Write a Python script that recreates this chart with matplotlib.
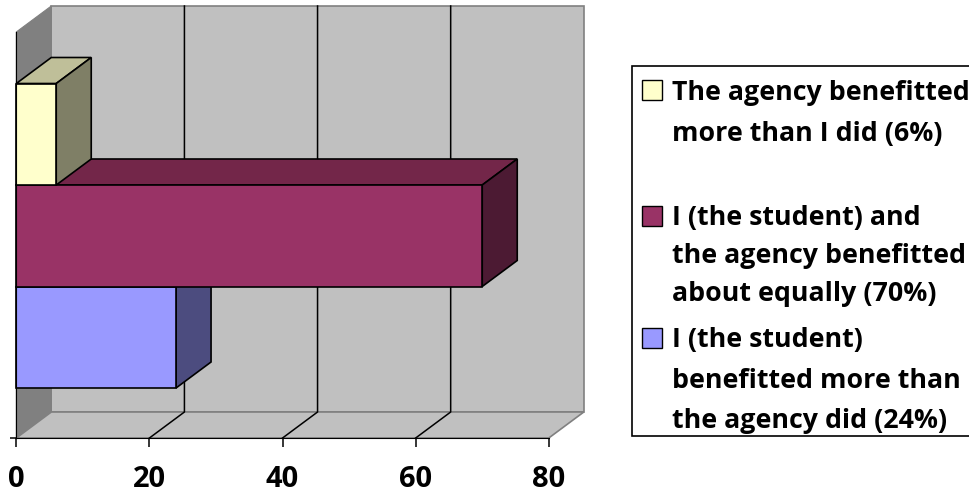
import matplotlib
matplotlib.use("Agg")
import matplotlib.pyplot as plt
from matplotlib.patches import Polygon, Rectangle

W, H = 970, 493
labels = ["The agency benefitted\nmore than I did (6%)",
          "I (the student) and\nthe agency benefitted\nabout equally (70%)",
          "I (the student)\nbenefitted more than\nthe agency did (24%)"]
values = [6, 70, 24]
x_ticks = [0, 20, 40, 60, 80]

front = ["#FFFFCC", "#993366", "#9999FF"]
top = ["#BFBF99", "#732649", "#7373BF"]
side = ["#7F7F66", "#4C1A33", "#4C4C7F"]

plt.rcParams["font.family"] = ["Open Sans", "DejaVu Sans"]
fig = plt.figure(figsize=(W / 100, H / 100), dpi=100)
ax = fig.add_axes([16.3 / W, (H - 438) / H, 532.5 / W, 406 / H])
ax.set_xlim(0, 80)
ax.set_ylim(0, 1)

DX = 35 / 532.5 * 80
DY = 26 / 406
XMAX = 80


def poly(pts, fc, ec="black", lw=1.2, z=1):
    ax.add_patch(Polygon(pts, closed=True, facecolor=fc, edgecolor=ec, lw=lw,
                         clip_on=False, zorder=z, joinstyle="miter"))


# walls
poly([(DX, DY), (XMAX + DX, DY), (XMAX + DX, 1 + DY), (DX, 1 + DY)], "#C0C0C0", "#808080", 1.2, 1)
poly([(0, 0), (DX, DY), (DX, 1 + DY), (0, 1)], "#808080", "#808080", 0.8, 1)
poly([(0, 0), (XMAX, 0), (XMAX + DX, DY), (DX, DY)], "#C0C0C0", "#808080", 1.2, 1)

# gridlines
for t in x_ticks[1:-1]:
    ax.plot([t, t + DX, t + DX], [0, DY, 1 + DY], color="black", lw=1.1, clip_on=False, zorder=2)

# bars
bar_h = 101.5 / 406
y0 = (438 - 388) / 406
for i in [2, 1, 0]:
    b = y0 + (2 - i) * bar_h
    t = b + bar_h
    v = values[i]
    z = 3 + (2 - i)
    poly([(0, t), (DX, t + DY), (v + DX, t + DY), (v, t)], top[i], z=z)
    poly([(v, b), (v + DX, b + DY), (v + DX, t + DY), (v, t)], side[i], z=z)
    poly([(0, b), (v, b), (v, t), (0, t)], front[i], z=z)

# axes
for s in ["top", "right"]:
    ax.spines[s].set_visible(False)
ax.spines["left"].set_zorder(10)
ax.spines["bottom"].set_zorder(10)
ax.set_xticks(x_ticks)
ax.set_yticks([0])
ax.set_yticklabels([""])
ax.tick_params(axis="x", length=6.5, width=1.1, pad=13, labelsize=21)
ax.tick_params(axis="y", length=4.5, width=1.1)
for lab in ax.get_xticklabels():
    lab.set_fontweight("bold")

# legend
fig.add_artist(Rectangle((632 / W, (H - 436) / H), 342 / W, 370 / H, transform=fig.transFigure,
                         facecolor="white", edgecolor="black", lw=1.2))
sw_y = [90, 216, 338]
tx_y = [113.5, 256, 380.5]
spacing = [1.7, 1.62, 1.7]
for i, lab in enumerate(labels):
    fig.add_artist(Rectangle((642 / W, (H - sw_y[i] - 10) / H), 20 / W, 20 / H, transform=fig.transFigure,
                             facecolor=front[i], edgecolor="black", lw=1.0))
    fig.text(672 / W, (H - tx_y[i]) / H, lab, fontsize=19.3, fontweight="bold", ha="left",
             va="center", linespacing=spacing[i], color="black")

fig.savefig("out.png", dpi=100)
